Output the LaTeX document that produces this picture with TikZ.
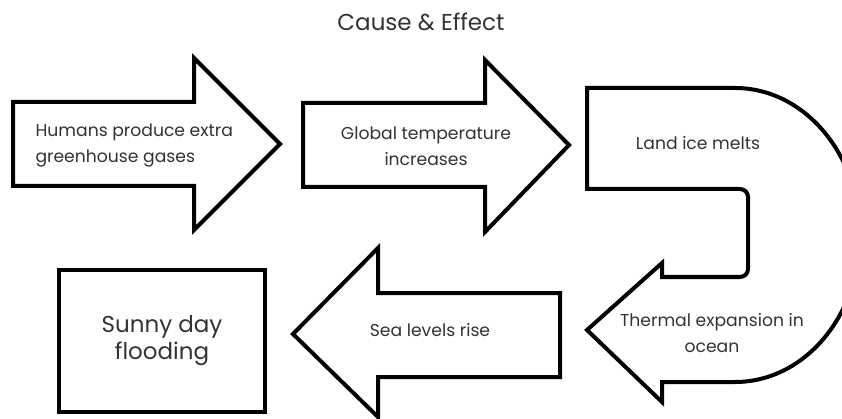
\documentclass[tikz,border=0pt]{standalone}
\usepackage{fontspec}
\setmainfont{Poppins}
\usetikzlibrary{positioning}

\begin{document}
\begin{tikzpicture}[x=1pt, y=-1pt,
  shp/.style={draw, line width=4pt, line join=miter, fill=white},
  lbl/.style={text=black!80, font=\fontsize{17.2}{26}\selectfont, align=center}]
\useasboundingbox (0,0) rectangle (842,419);
\clip (0,0) rectangle (842,419);
\node[text=black!80, font=\fontsize{23}{27}\selectfont] (title) at (421,22) {Cause \& Effect};
% right arrows
\draw[shp] (13,102) -- (194,102) -- (194,58) -- (280,144) -- (194,230) -- (194,186) -- (13,186) -- cycle;
\draw[shp] (303,103) -- (485,103) -- (485,60) -- (569,145) -- (485,232) -- (485,187) -- (303,187) -- cycle;
% u-turn
\draw[shp] (587,88) -- (735,88) arc[start angle=-90, end angle=90, x radius=125, y radius=147]
  -- (662,382) -- (662,402) -- (587,330) -- (662,263) -- (662,277) -- (700,277)
  [rounded corners=8pt] -- (748,277) -- (748,189) -- (700,189) [sharp corners] -- (587,189) -- cycle;
% left arrow
\draw[shp] (560,293) -- (378,293) -- (378,248) -- (293,334) -- (378,417) -- (378,377) -- (560,377) -- cycle;
\node[lbl, align=left, anchor=west] (humans) at (32,145) {Humans produce extra\\greenhouse gases};
\node[lbl] (temp) at (426,146) {Global temperature\\increases};
\node[lbl] (ice) at (698,143) {Land ice melts};
\node[lbl] (thermal) at (712,333) {Thermal expansion in\\ocean};
\node[lbl] (sea) at (430,330) {Sea levels rise};
\node[draw, line width=4pt, minimum width=206, minimum height=142, text=black!80,
  font=\fontsize{23}{27}\selectfont, align=center] (flood) at (162,341) {Sunny day\\flooding};
\end{tikzpicture}
\end{document}
